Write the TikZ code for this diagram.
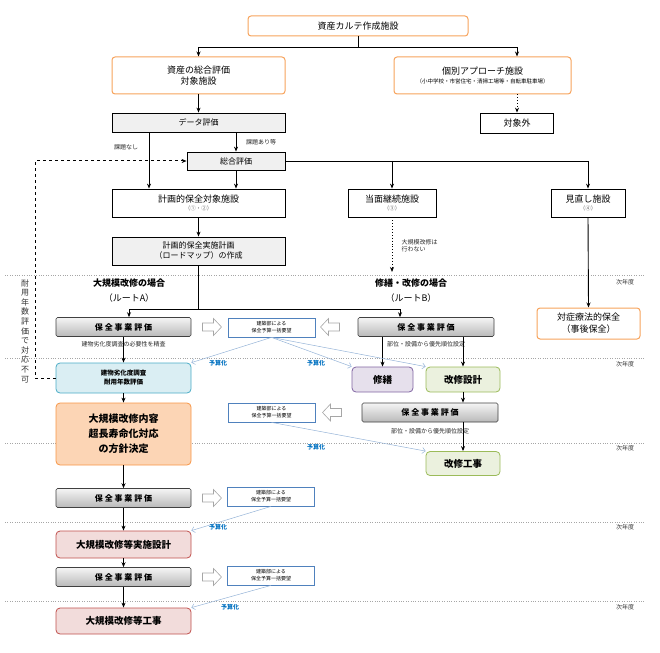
\documentclass[tikz,border=0pt]{standalone}
\usepackage{fontspec}
\setmainfont{Noto Sans CJK JP}
\usetikzlibrary{arrows.meta}
\definecolor{orb}{HTML}{F7A35C}
\definecolor{bluebd}{HTML}{4BACC6}
\definecolor{bluefl}{HTML}{DAEEF3}
\definecolor{nfl}{HTML}{FCD5B5}
\definecolor{nbd}{HTML}{F79646}
\definecolor{pfl}{HTML}{E6E0EC}
\definecolor{pbd}{HTML}{8064A2}
\definecolor{gfl}{HTML}{EBF1DE}
\definecolor{gbd}{HTML}{9BBB59}
\definecolor{rfl}{HTML}{F2DCDB}
\definecolor{rbd}{HTML}{C0504D}
\definecolor{kbd}{HTML}{4F81BD}
\definecolor{lb}{HTML}{95B3D7}
\definecolor{yb}{HTML}{0070C0}
\tikzset{
 bx/.style={draw,line width=0.8pt,align=center,inner sep=1pt,font=\fontsize{9}{11}\selectfont},
 obox/.style={bx,draw=orb,line width=1pt,rounded corners=3pt,fill=white},
 wbox/.style={bx,fill=white},
 lgbox/.style={bx,fill=gray!12},
 hz/.style={draw=gray!50!black,line width=0.6pt,rounded corners=1.5pt,top color=gray!8,bottom color=gray!55,font=\bfseries\fontsize{8}{9}\selectfont,minimum width=135pt,minimum height=19pt},
 kb/.style={draw=kbd,line width=0.8pt,fill=white,align=center,font=\fontsize{5}{7}\selectfont,minimum width=87pt,minimum height=19pt,inner sep=0pt},
 clr/.style={bx,rounded corners=4pt,font=\bfseries\fontsize{9.5}{13}\selectfont},
 arr/.style={-{Stealth[length=5pt,width=4pt]},line width=0.9pt},
 ln/.style={line width=0.9pt},
 barr/.style={-{Straight Barb[length=3pt]},draw=lb,line width=0.5pt},
 ya/.style={text=yb,font=\bfseries\fontsize{6}{7}\selectfont},
 sm/.style={font=\fontsize{6}{7}\selectfont,text=gray!30!black},
 sep/.style={gray!70,line width=0.4pt,dotted},
 nx/.style={font=\fontsize{6}{7}\selectfont,text=gray!40!black},
 harr/.pic={\draw[gray!70,line width=0.6pt,fill=white] (-9.5,-4) -- (1.5,-4) -- (1.5,-8.5) -- (9.5,0) -- (1.5,8.5) -- (1.5,4) -- (-9.5,4) -- cycle;}
}
\begin{document}
\begin{tikzpicture}[x=1pt,y=-1pt]
\useasboundingbox (0,0) rectangle (660,652);
\foreach \yy/\ly in {275/282,358/364,443/448,522/527,601/607}{
 \draw[sep] (5,\yy) -- (645,\yy);
 \node[nx] at (625,\ly) {次年度};
}
\node[obox,minimum width=220pt,minimum height=20pt] (top) at (358,26) {資産カルテ作成施設};
\node[obox,minimum width=173pt,minimum height=37pt] (sogo) at (198.5,75.5) {資産の総合評価\\対象施設};
\node[obox,minimum width=177pt,minimum height=37pt] (kobetsu) at (482.5,75.5) {個別アプローチ施設\\[-2pt]{\fontsize{5.5}{7}\selectfont（小中学校・市営住宅・清掃工場等・自転車駐車場）}};
\node[wbox,minimum width=73pt,minimum height=20pt] (taisho) at (517,123) {対象外};
\node[lgbox,minimum width=173pt,minimum height=19pt,font=\fontsize{8}{10}\selectfont] (data) at (198.5,122.5) {データ評価};
\node[lgbox,minimum width=98pt,minimum height=18pt,font=\fontsize{8}{10}\selectfont] (sh) at (236,161) {総合評価};
\node[wbox,minimum width=173pt,minimum height=28pt] (keikaku) at (198.5,203) {計画的保全対象施設\\[-3pt]{\fontsize{5.5}{7}\selectfont\color{gray!80!black}（①・②）}};
\node[wbox,minimum width=88pt,minimum height=28pt] (tomen) at (392,203) {当面継続施設\\[-3pt]{\fontsize{5.5}{7}\selectfont\color{gray!80!black}（③）}};
\node[wbox,minimum width=74pt,minimum height=28pt] (mina) at (588,203) {見直し施設\\[-3pt]{\fontsize{5.5}{7}\selectfont\color{gray!80!black}（④）}};
\node[lgbox,minimum width=173pt,minimum height=28pt,font=\fontsize{8}{10}\selectfont] (road) at (198.5,251) {計画的保全実施計画\\（ロードマップ）の作成};
\node[sm] at (126,147) {課題なし};
\node[sm] at (261,142) {課題あり等};
\node[sm,align=left,anchor=west] at (398,246) {大規模改修は\\行わない};
\node[font=\bfseries\fontsize{9}{11}\selectfont] at (129,283) {大規模改修の場合};
\node[font=\fontsize{9}{11}\selectfont] at (129,298) {（ルートA）};
\node[font=\bfseries\fontsize{9}{11}\selectfont] at (411,283) {修繕・改修の場合};
\node[font=\fontsize{9}{11}\selectfont] at (411,298) {（ルートB）};
\node[hz] (h1) at (123.5,327) {保\ 全\ 事\ 業\ 評\ 価};
\node[sm] at (123.5,344) {建物劣化度調査の必要性を精査};
\pic at (212,327) {harr};
\node[kb] (k1) at (271.5,327.5) {建築部による\\保全予算一括要望};
\pic[xscale=-1] at (330,327) {harr};
\node[hz,minimum width=136pt] (r1) at (426,327) {保\ 全\ 事\ 業\ 評\ 価};
\node[sm] at (426,344) {部位・設備から優先順位設定};
\node[obox,minimum width=103pt,minimum height=31pt,font=\fontsize{9}{12}\selectfont] (tai) at (588.5,323.5) {対症療法的保全\\（事後保全）};
\node[clr,fill=bluefl,draw=bluebd,minimum width=135pt,minimum height=30pt,font=\bfseries\fontsize{6.5}{9}\selectfont] (blue) at (123.5,378) {建物劣化度調査\\耐用年数評価};
\node[clr,fill=pfl,draw=pbd,minimum width=61pt,minimum height=25pt] (shu) at (382.5,379.5) {修繕};
\node[clr,fill=gfl,draw=gbd,minimum width=74pt,minimum height=25pt] (ks) at (463,379.5) {改修設計};
\node[kb] (k2) at (271.5,412.5) {建築部による\\保全予算一括要望};
\pic[xscale=-1] at (332,412.5) {harr};
\node[hz,minimum width=136pt] (r2) at (430,412.5) {保\ 全\ 事\ 業\ 評\ 価};
\node[sm] at (430,431) {部位・設備から優先順位設定};
\node[clr,fill=nfl,draw=nbd,minimum width=135pt,minimum height=62pt,font=\bfseries\fontsize{10}{15}\selectfont] (nai) at (123.5,434) {大規模改修内容\\超長寿命化対応\\の方針決定};
\node[clr,fill=gfl,draw=gbd,minimum width=74pt,minimum height=24pt] (kk) at (463,463.5) {改修工事};
\node[hz] (h3) at (123.5,498) {保\ 全\ 事\ 業\ 評\ 価};
\pic at (212,498) {harr};
\node[kb] (k3) at (271,496.5) {建築部による\\保全予算一括要望};
\node[clr,fill=rfl,draw=rbd,minimum width=135pt,minimum height=27pt] (jis) at (123.5,544.5) {大規模改修等実施設計};
\node[hz] (h4) at (123.5,577) {保\ 全\ 事\ 業\ 評\ 価};
\pic at (212,577) {harr};
\node[kb] (k4) at (271,575.5) {建築部による\\保全予算一括要望};
\node[clr,fill=rfl,draw=rbd,minimum width=135pt,minimum height=26pt] (koji) at (123.5,621) {大規模改修等工事};
\node[font=\fontsize{8}{9.6}\selectfont,text=gray!40!black,align=center] at (25,331) {耐\\用\\年\\数\\評\\価\\で\\対\\応\\不\\可};
\coordinate (j1) at (358,47);
\draw[ln] (top.south) -- (j1);
\draw[arr] (j1) -| (sogo.north);
\draw[arr] (j1) -| (taisho.north |- kobetsu.north);
\draw[arr,dotted] (taisho.north |- kobetsu.south) -- (taisho.north);
\draw[arr] (sogo) -- (data);
\draw[arr] (data.south -| 149,0) -- (keikaku.north -| 149,0);
\draw[arr] (data.south -| sh.north) -- (sh.north);
\draw[arr] (sh.south) -- (keikaku.north -| sh.south);
\coordinate (j2) at (588,161);
\draw[ln] (sh.east) -- (j2);
\draw[arr] (sh.east -| tomen.north) -- (tomen.north);
\draw[arr] (j2) -- (mina.north);
\draw[arr] (keikaku) -- (road);
\coordinate (tm) at (392,272);
\draw[arr,dotted] (tomen.south) -- (tm);
\coordinate (j3) at (198.5,309);
\draw[ln] (road.south) -- (j3);
\draw[ln] (129,309) -- (400,309);
\draw[arr] (129,309) -- (h1.north -| 129,0);
\draw[arr] (400,309) -- (r1.north -| 400,0);
\draw[arr] (mina.south) -- (tai.north);
\draw[arr] (h1) -- (blue);
\draw[arr] (blue) -- (nai);
\draw[arr] (nai) -- (h3);
\draw[arr] (h3) -- (jis);
\draw[arr] (jis) -- (h4);
\draw[arr] (h4) -- (koji);
\draw[arr] (r1.south -| shu.north) -- (shu.north);
\draw[arr] (r1.south -| ks.north) -- (ks.north);
\draw[arr] (ks) -- (r2.north -| ks.south);
\draw[arr] (r2.south -| kk.north) -- (kk.north);
\draw[arr,dashed,line width=1pt] (blue.west) -- (35,378) -- (35,161) -- (sh.west);
\draw[barr] (k1.south) -- (blue.north east);
\draw[barr] (k1.south) -- (shu.north west);
\draw[barr] (k1.south) -- (ks.north west);
\draw[barr] (k2.south) -- (kk.north west);
\draw[barr] (k3.south) -- (jis.north east);
\draw[barr] (k4.south) -- (koji.north east);
\node[ya] at (218,363) {予算化};
\node[ya] at (316,363) {予算化};
\node[ya] at (316,447) {予算化};
\node[ya] at (218,527) {予算化};
\node[ya] at (230,607) {予算化};
\end{tikzpicture}
\end{document}
